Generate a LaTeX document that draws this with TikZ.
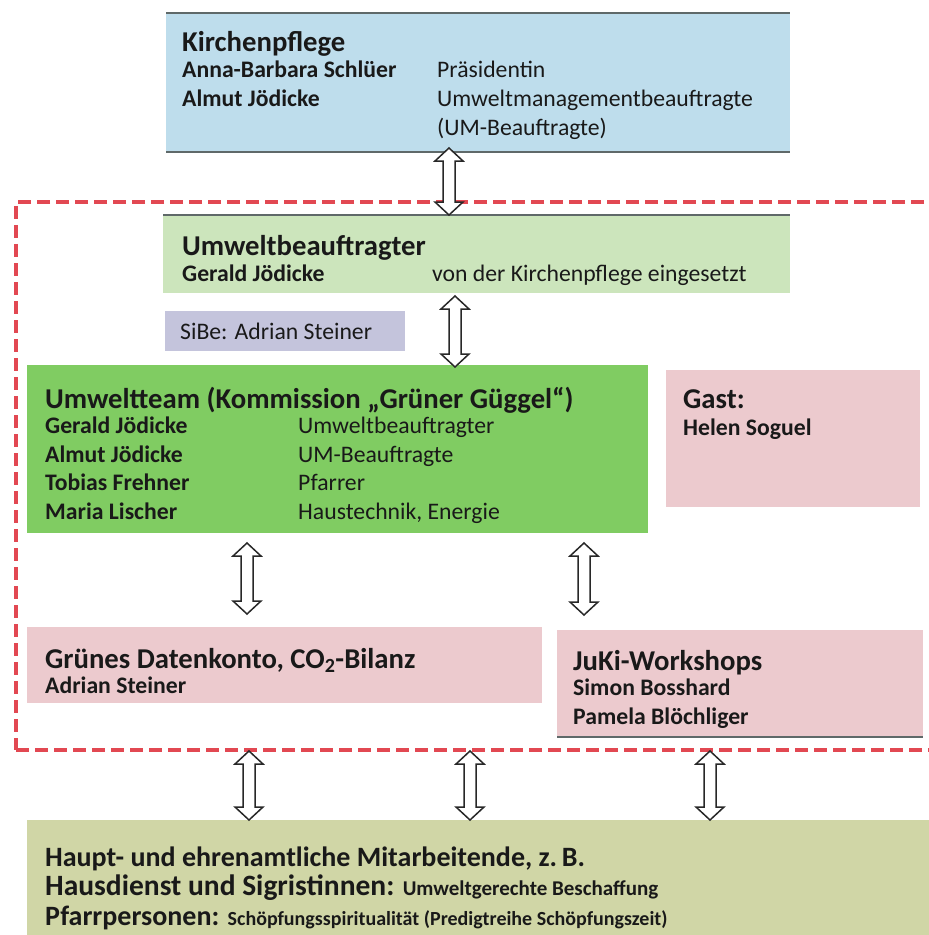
\documentclass[tikz,border=0pt]{standalone}
\usepackage{fontspec}
\setmainfont{Carlito}
\usetikzlibrary{calc}
\definecolor{kpblue}{RGB}{190,221,236}
\definecolor{ubgreen}{RGB}{204,229,188}
\definecolor{sibe}{RGB}{196,196,220}
\definecolor{teamgreen}{RGB}{128,204,98}
\definecolor{pinkbox}{RGB}{236,202,206}
\definecolor{olivebox}{RGB}{208,214,166}
\definecolor{frameRed}{RGB}{226,72,82}
\definecolor{edge}{RGB}{95,105,105}
\definecolor{txt}{RGB}{25,25,25}
\definecolor{arrowc}{RGB}{40,40,40}
\begin{document}
\begin{tikzpicture}[x=1bp,y=-1bp,
  box/.style={rectangle, inner sep=0pt, outer sep=0pt, anchor=north west},
  hd/.style={anchor=base west, inner sep=0pt, text=txt, font=\fontsize{28.7bp}{34bp}\selectfont\bfseries},
  hdb/.style={anchor=base west, inner sep=0pt, text=txt, font=\fontsize{28bp}{34bp}\selectfont\bfseries},
  nm/.style={anchor=base west, inner sep=0pt, text=txt, font=\fontsize{23.7bp}{28bp}\selectfont\bfseries},
  rl/.style={anchor=base west, inner sep=0pt, text=txt, font=\fontsize{23.7bp}{28bp}\selectfont},
  edgeline/.style={draw=edge, line width=2bp},
  framebox/.style={rectangle, draw=frameRed, line width=4bp, dash pattern=on 13bp off 6bp, inner sep=0pt, anchor=north west},
  blockarrow/.style={draw=arrowc, fill=white, line width=1.5bp, line join=miter,
    to path={let \p1=(\tikztostart), \p2=(\tikztotarget) in
      (\x1,\y1) -- (\x1+14bp,\y1-13bp) -- (\x1+6bp,\y1-13bp) -- (\x1+6bp,\y2+13bp)
      -- (\x1+14bp,\y2+13bp) -- (\x1,\y2) -- (\x1-14bp,\y2+13bp) -- (\x1-6bp,\y2+13bp)
      -- (\x1-6bp,\y1-13bp) -- (\x1-14bp,\y1-13bp) -- cycle}}
]
\useasboundingbox[fill=white] (0,0) rectangle (929,935);

% dashed frame
\node[framebox, minimum width=940bp, minimum height=548bp] (frame) at (14,200) {};

% boxes
\node[box, fill=kpblue, minimum width=624bp, minimum height=139bp] (kp) at (166,13) {};
\node[box, fill=ubgreen, minimum width=627bp, minimum height=78bp] (ub) at (163,215) {};
\node[box, fill=sibe, minimum width=240bp, minimum height=40bp] (sibe) at (165,311) {};
\node[box, fill=teamgreen, minimum width=621bp, minimum height=168bp] (team) at (27,365) {};
\node[box, fill=pinkbox, minimum width=254bp, minimum height=137bp] (gast) at (666,370) {};
\node[box, fill=pinkbox, minimum width=515bp, minimum height=76bp] (daten) at (27,627) {};
\node[box, fill=pinkbox, minimum width=366bp, minimum height=107bp] (juki) at (557,630) {};
\node[box, fill=olivebox, minimum width=920bp, minimum height=130bp] (bottom) at (27,820) {};

% edge shading lines
\draw[edgeline] (kp.north west) -- (kp.north east);
\draw[edgeline] (kp.south west) -- (kp.south east);
\draw[edgeline] (ub.north west) -- (ub.north east);
\draw[edgeline] (juki.south west) -- (juki.south east);

% texts: Kirchenpflege
\node[hd] at ($(kp.north west)+(16,38)$) {Kirchenpflege};
\node[nm] at ($(kp.north west)+(16,64)$) {Anna-Barbara Schlüer};
\node[rl] at ($(kp.north west)+(271,64)$) {Präsidentin};
\node[nm] at ($(kp.north west)+(16,93)$) {Almut Jödicke};
\node[rl] at ($(kp.north west)+(271,93)$) {Umweltmanagementbeauftragte};
\node[rl] at ($(kp.north west)+(271,122)$) {(UM-Beauftragte)};

% Umweltbeauftragter
\node[hd] at ($(ub.north west)+(19,40)$) {Umweltbeauftragter};
\node[nm] at ($(ub.north west)+(19,66)$) {Gerald Jödicke};
\node[rl] at ($(ub.north west)+(269,66)$) {von der Kirchenpflege eingesetzt};

% SiBe
\node[rl] at ($(sibe.north west)+(15,28)$) {SiBe: Adrian Steiner};

% Umweltteam
\node[hd] at ($(team.north west)+(18,43)$) {Umweltteam (Kommission „Grüner Güggel“)};
\node[nm] at ($(team.north west)+(18,68)$) {Gerald Jödicke};
\node[rl] at ($(team.north west)+(271,68)$) {Umweltbeauftragter};
\node[nm] at ($(team.north west)+(18,97)$) {Almut Jödicke};
\node[rl] at ($(team.north west)+(271,97)$) {UM-Beauftragte};
\node[nm] at ($(team.north west)+(18,125)$) {Tobias Frehner};
\node[rl] at ($(team.north west)+(271,125)$) {Pfarrer};
\node[nm] at ($(team.north west)+(18,154)$) {Maria Lischer};
\node[rl] at ($(team.north west)+(271,154)$) {Haustechnik, Energie};

% Gast
\node[hd] at ($(gast.north west)+(17,38)$) {Gast:};
\node[nm] at ($(gast.north west)+(17,65)$) {Helen Soguel};

% Datenkonto
\node[hd] at ($(daten.north west)+(18,41)$) {Grünes Datenkonto, CO\textsubscript{2}-Bilanz};
\node[nm] at ($(daten.north west)+(18,66)$) {Adrian Steiner};

% JuKi
\node[hd] at ($(juki.north west)+(16,40)$) {JuKi-Workshops};
\node[nm] at ($(juki.north west)+(16,65)$) {Simon Bosshard};
\node[nm] at ($(juki.north west)+(16,94)$) {Pamela Blöchliger};

% bottom
\node[hdb] at ($(bottom.north west)+(18,46)$) {Haupt- und ehrenamtliche Mitarbeitende, z.\,B.};
\node[hdb] at ($(bottom.north west)+(18,75)$) {{\fontsize{29.5bp}{34bp}\selectfont Hausdienst und Sigristinnen:} {\fontsize{21bp}{24bp}\selectfont Umweltgerechte Beschaffung}};
\node[hdb] at ($(bottom.north west)+(18,105)$) {Pfarrpersonen: {\fontsize{20bp}{24bp}\selectfont Schöpfungsspiritualität (Predigtreihe Schöpfungszeit)}};

% arrow columns
\coordinate (ax1) at (449,0);
\coordinate (ax2) at (455,0);
\coordinate (ax3) at (247,0);
\coordinate (ax4) at (584,0);
\coordinate (ax5) at (249,0);
\coordinate (ax6) at (470,0);
\coordinate (ax7) at (710,0);

\draw[blockarrow] ($(kp.south -| ax1)+(0,-4)$) to (ub.north -| ax1);
\draw[blockarrow] ($(ub.south -| ax2)+(0,3)$) to ($(team.north -| ax2)+(0,2)$);
\draw[blockarrow] ($(team.south -| ax3)+(0,10)$) to ($(daten.north -| ax3)+(0,-13)$);
\draw[blockarrow] ($(team.south -| ax4)+(0,10)$) to ($(juki.north -| ax4)+(0,-15)$);
\draw[blockarrow] ($(frame.south -| ax5)+(0,-1)$) to (bottom.north -| ax5);
\draw[blockarrow] ($(frame.south -| ax6)+(0,-1)$) to (bottom.north -| ax6);
\draw[blockarrow] ($(frame.south -| ax7)+(0,-1)$) to (bottom.north -| ax7);
\end{tikzpicture}
\end{document}
